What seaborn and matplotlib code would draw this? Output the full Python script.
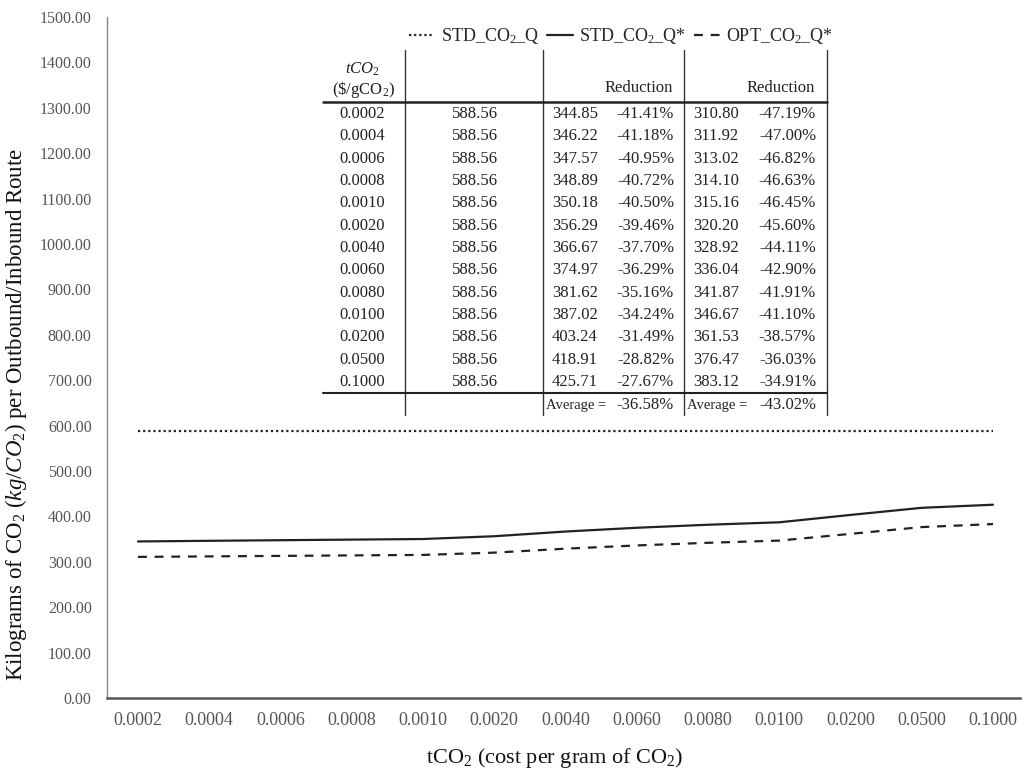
import numpy as np
import pandas as pd
import matplotlib
matplotlib.use("Agg")
import matplotlib.pyplot as plt
from matplotlib.lines import Line2D
import seaborn as sns

tco2 = ["0.0002", "0.0004", "0.0006", "0.0008", "0.0010", "0.0020", "0.0040",
        "0.0060", "0.0080", "0.0100", "0.0200", "0.0500", "0.1000"]
std_q = [588.56] * 13
std_qstar = [344.85, 346.22, 347.57, 348.89, 350.18, 356.29, 366.67,
             374.97, 381.62, 387.02, 403.24, 418.91, 425.71]
std_red = ["-41.41%", "-41.18%", "-40.95%", "-40.72%", "-40.50%", "-39.46%", "-37.70%",
           "-36.29%", "-35.16%", "-34.24%", "-31.49%", "-28.82%", "-27.67%"]
opt_qstar = [310.80, 311.92, 313.02, 314.10, 315.16, 320.20, 328.92,
             336.04, 341.87, 346.67, 361.53, 376.47, 383.12]
opt_red = ["-47.19%", "-47.00%", "-46.82%", "-46.63%", "-46.45%", "-45.60%", "-44.11%",
           "-42.90%", "-41.91%", "-41.10%", "-38.57%", "-36.03%", "-34.91%"]
avg_std = "-36.58%"
avg_opt = "-43.02%"
yticks = np.arange(0, 1501, 100)

series_names = ["STD_CO$_2$_Q", "STD_CO$_2$_Q*", "OPT_CO$_2$_Q*"]

sns.set_theme(style="white")
plt.rcParams["font.family"] = ["Liberation Serif", "DejaVu Serif"]
plt.rcParams["mathtext.fontset"] = "custom"
plt.rcParams["mathtext.rm"] = "Liberation Serif"
plt.rcParams["mathtext.it"] = "Liberation Serif:italic"

W, H = 1022, 773
fig = plt.figure(figsize=(W / 100, H / 100), dpi=100)
ax = fig.add_axes([107 / W, 1 - 698 / H, (1020 - 107) / W, (698 - 17) / H])


def px(x, y):
    return x / W, 1 - y / H


idx = np.arange(len(tco2))
df = pd.DataFrame({
    "idx": np.tile(idx, 3),
    "value": std_q + std_qstar + opt_qstar,
    "series": np.repeat(series_names, len(tco2)),
})

sns.lineplot(data=df, x="idx", y="value", style="series", style_order=series_names,
             dashes={series_names[0]: (1, 1.3), series_names[1]: "",
                     series_names[2]: (4, 3.5)},
             color="#222222", linewidth=1.6, ax=ax, legend=False)

ax.set_xlim(-0.435, 12.379)
ax.set_ylim(0, 1500)
ax.set_yticks(yticks)
ax.set_yticklabels([f"{v:.2f}" for v in yticks])
ax.set_xticks(idx)
ax.set_xticklabels(tco2)
ax.tick_params(axis="both", length=0, colors="#555555")
ax.tick_params(axis="x", pad=10, labelsize=13)
ax.tick_params(axis="y", pad=11, labelsize=11.5)
for s in ["top", "right"]:
    ax.spines[s].set_visible(False)
ax.spines["left"].set_color("#888888")
ax.spines["left"].set_linewidth(1.0)
ax.spines["bottom"].set_color("#555555")
ax.spines["bottom"].set_linewidth(1.8)
ax.set_xlabel("tCO$_2$ (cost per gram of CO$_2$)", fontsize=16, color="#111111")
ax.set_ylabel("Kilograms of CO$_2$ ($kg/CO_2$) per Outbound/Inbound Route",
              fontsize=16.5, color="#111111")
ax.yaxis.set_label_coords(-78 / 913, 0.417)
ax.xaxis.set_label_coords(0.49, -48 / 681)

# legend
handles = [Line2D([], [], color="#222222", lw=1.6, dashes=(1, 1.3)),
           Line2D([], [], color="#222222", lw=1.6),
           Line2D([], [], color="#222222", lw=1.6, dashes=(4, 3.5))]
fig.legend(handles, series_names, loc="center", bbox_to_anchor=px(621, 36), ncol=3,
           frameon=False, fontsize=13, handlelength=1.4, handletextpad=0.35,
           columnspacing=0.45)

# embedded table
tc = "#222222"
fs = 12
for xv in [405, 543, 684, 827]:
    fig.add_artist(Line2D([xv / W, xv / W], [1 - 50 / H, 1 - 415 / H], color="#333333", lw=1.0))
for yv, lw in [(102, 1.8), (393, 1.5)]:
    fig.add_artist(Line2D([323 / W, 827 / W], [1 - yv / H, 1 - yv / H], color="#222222", lw=lw))

fig.text(*px(362, 69), "$tCO_2$", ha="center", va="center", fontsize=fs, color=tc)
fig.text(*px(364, 89), "(\\$/gCO$_2$)", ha="center", va="center", fontsize=fs, color=tc)
fig.text(*px(673, 88), "Reduction", ha="right", va="center", fontsize=fs, color=tc)
fig.text(*px(815, 88), "Reduction", ha="right", va="center", fontsize=fs, color=tc)

row0, step = 114, (382 - 114) / 12
for i in range(len(tco2)):
    yy = row0 + i * step
    fig.text(*px(362, yy), tco2[i], ha="center", va="center", fontsize=fs, color=tc)
    fig.text(*px(475, yy), f"{std_q[i]:.2f}", ha="center", va="center", fontsize=fs, color=tc)
    fig.text(*px(552, yy), f"{std_qstar[i]:.2f}", ha="left", va="center", fontsize=fs, color=tc)
    fig.text(*px(674, yy), std_red[i], ha="right", va="center", fontsize=fs, color=tc)
    fig.text(*px(693, yy), f"{opt_qstar[i]:.2f}", ha="left", va="center", fontsize=fs, color=tc)
    fig.text(*px(816, yy), opt_red[i], ha="right", va="center", fontsize=fs, color=tc)

fig.text(*px(546, 405), "Average =", ha="left", va="center", fontsize=10.5, color=tc)
fig.text(*px(674, 405), avg_std, ha="right", va="center", fontsize=fs, color=tc)
fig.text(*px(687, 405), "Average =", ha="left", va="center", fontsize=10.5, color=tc)
fig.text(*px(816, 405), avg_opt, ha="right", va="center", fontsize=fs, color=tc)

fig.savefig("out.png", dpi=100, facecolor="white")
